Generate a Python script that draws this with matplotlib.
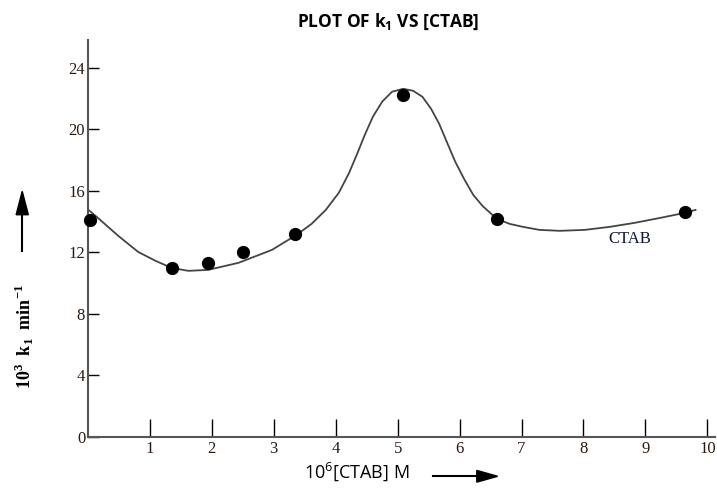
import matplotlib.pyplot as plt

# measured points, k1 (x10^3 min^-1) vs [CTAB] (x10^6 M)
ctab = [0.03, 1.35, 1.93, 2.5, 3.35, 5.09, 6.6, 9.64]
k1 = [14.1, 11.0, 11.3, 12.0, 13.2, 22.2, 14.2, 14.6]

# hand drawn trend curve
curve_x = [-0.03, 0.16, 0.49, 0.81, 1.09, 1.35, 1.62, 1.94, 2.43, 2.97, 3.37, 3.61,
           3.84, 4.05, 4.21, 4.34, 4.47, 4.60, 4.75, 4.91, 5.09, 5.25, 5.40, 5.54,
           5.67, 5.80, 5.93, 6.08, 6.22, 6.37, 6.60, 6.81, 7.02, 7.29, 7.62, 8.02,
           8.43, 8.83, 9.24, 9.64, 9.81]
curve_y = [14.89, 14.24, 13.07, 12.03, 11.45, 10.99, 10.80, 10.86, 11.32, 12.16, 13.14, 13.85,
           14.76, 15.87, 17.11, 18.34, 19.64, 20.81, 21.79, 22.44, 22.63, 22.50, 22.11, 21.33,
           20.36, 19.12, 17.89, 16.72, 15.74, 15.02, 14.18, 13.85, 13.66, 13.46, 13.40, 13.46,
           13.66, 13.92, 14.24, 14.57, 14.76]

xticks = [1, 2, 3, 4, 5, 6, 7, 8, 9, 10]
yticks = [0, 4, 8, 12, 16, 20, 24]

fig = plt.figure(figsize=(7.17, 4.88), dpi=100)
ax = fig.add_axes([0.1227, 0.1045, 0.875, 0.8135])

ax.plot(curve_x, curve_y, color="#444444", lw=1.3, zorder=2)
ax.plot(ctab, k1, "o", color="black", markersize=8.5, zorder=3, clip_on=False)

ax.set_xlim(0, 10.13)
ax.set_ylim(0, 25.8)

for s in ["top", "right"]:
    ax.spines[s].set_visible(False)
for s in ["left", "bottom"]:
    ax.spines[s].set_color("#555555")
    ax.spines[s].set_linewidth(1.5)

ax.set_xticks(xticks)
ax.set_yticks(yticks)
ax.tick_params(axis="x", direction="in", length=13, width=1, pad=3)
ax.tick_params(axis="y", direction="in", length=8, width=1, pad=2)
for lab in ax.get_xticklabels() + ax.get_yticklabels():
    lab.set_fontfamily("Liberation Serif")
    lab.set_fontsize(12)
    lab.set_color("#2a1a10")

fig.text(0.542, 0.955, r"PLOT OF k$_\mathregular{1}$ VS [CTAB]",
         ha="center", va="center", fontsize=12.5, fontweight="bold", family="Open Sans")

ax.text(8.75, 12.88, "CTAB", ha="center", va="center", fontsize=12,
        family="Liberation Serif", color="#101830")

fig.text(0.034, 0.31, r"10$^\mathregular{3}$  k$_\mathregular{1}$  min$^\mathregular{-1}$",
         rotation=90, ha="center", va="center", fontsize=13, fontweight="bold",
         family="Liberation Serif")
fig.add_artist(plt.Line2D([0.031, 0.031], [0.486, 0.57], color="black", lw=1.5))
fig.patches.append(plt.Polygon([[0.0225, 0.56], [0.0395, 0.56], [0.031, 0.608]],
                               closed=True, color="black", transform=fig.transFigure))

fig.text(0.498, 0.034, r"10$^\mathregular{6}$[CTAB] M", ha="center", va="center",
         fontsize=13, family="Open Sans")
fig.add_artist(plt.Line2D([0.604, 0.672], [0.024, 0.024], color="black", lw=1.5))
fig.patches.append(plt.Polygon([[0.665, 0.036], [0.665, 0.012], [0.694, 0.024]],
                               closed=True, color="black", transform=fig.transFigure))

fig.savefig("out.png", dpi=100)
